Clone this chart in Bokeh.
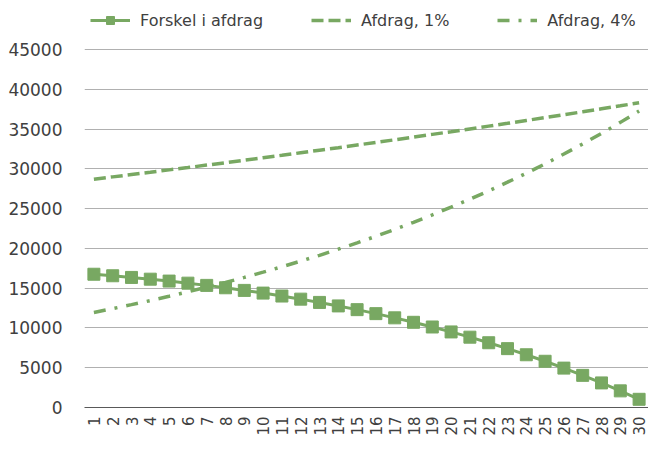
import math
from bokeh.plotting import figure
from bokeh.models import (FactorRange, Range1d, FixedTicker, Legend, LegendItem,
                          BasicTickFormatter, ColumnDataSource)
from bokeh.embed import file_html
from bokeh.resources import INLINE

years = [str(i) for i in range(1, 31)]
forskel = [16750, 16560, 16350, 16130, 15890, 15630, 15350, 15050, 14720, 14380,
           14010, 13620, 13210, 12770, 12300, 11800, 11270, 10710, 10120, 9500,
           8840, 8140, 7400, 6630, 5810, 4950, 4040, 3090, 2090, 1030]
afdrag_1 = [28700, 28990, 29280, 29570, 29870, 30160, 30470, 30770, 31080, 31390,
            31700, 32020, 32340, 32660, 32990, 33320, 33650, 33990, 34330, 34670,
            35020, 35370, 35720, 36080, 36440, 36810, 37170, 37550, 37920, 38300]
afdrag_4 = [11950, 12430, 12930, 13440, 13980, 14540, 15120, 15730, 16350, 17010,
            17690, 18400, 19130, 19900, 20690, 21520, 22380, 23280, 24210, 25180,
            26180, 27230, 28320, 29450, 30630, 31860, 33130, 34460, 35840, 37270]
y_ticks = [0, 5000, 10000, 15000, 20000, 25000, 30000, 35000, 40000, 45000]
labels = ["Forskel i afdrag", "Afdrag, 1%", "Afdrag, 4%"]

GREEN = "#78A862"
TEXT = "#404040"
FONT = "DejaVu Sans"

src = ColumnDataSource(dict(x=years, f=forskel, a1=afdrag_1, a4=afdrag_4))

# frame extends to the top of the canvas so the legend (inside the frame) is not clipped;
# only ticks up to 45000 are shown
p = figure(width=648, height=461, x_range=FactorRange(*years),
           y_range=Range1d(0, 51160), output_backend="svg", toolbar_location=None,
           min_border_left=84, min_border_right=0, min_border_top=0,
           min_border_bottom=54)
p.outline_line_color = None
p.background_fill_color = "white"
p.border_fill_color = "white"

r_f_line = p.line("x", "f", source=src, line_color=GREEN, line_width=3)
r_f_sq = p.scatter("x", "f", source=src, marker="square", size=12,
                   fill_color=GREEN, line_color=GREEN)
r_a1 = p.line("x", "a1", source=src, line_color=GREEN, line_width=3.5,
              line_dash="12 5")
r_a4 = p.line("x", "a4", source=src, line_color=GREEN, line_width=3.5,
              line_dash="12 9 3 9")

# axes
p.yaxis.ticker = FixedTicker(ticks=y_ticks)
p.yaxis.formatter = BasicTickFormatter(use_scientific=False)
p.yaxis.axis_line_color = None
p.yaxis.major_tick_line_color = None
p.yaxis.minor_tick_line_color = None
p.yaxis.major_label_standoff = 16
p.yaxis.major_label_text_font = FONT
p.yaxis.major_label_text_font_size = "17px"
p.yaxis.major_label_text_color = TEXT

p.xaxis.axis_line_color = "#595959"
p.xaxis.axis_line_width = 1.2
p.xaxis.major_tick_line_color = None
p.xaxis.minor_tick_line_color = None
p.xaxis.major_label_orientation = math.pi / 2
p.xaxis.major_label_standoff = 3
p.xaxis.major_label_text_font = FONT
p.xaxis.major_label_text_font_size = "15px"
p.xaxis.major_label_text_color = TEXT

p.xgrid.grid_line_color = None
p.ygrid.grid_line_color = "#B0B0B0"
p.ygrid.grid_line_width = 1.2

legend = Legend(items=[LegendItem(label=labels[0], renderers=[r_f_line, r_f_sq]),
                       LegendItem(label=labels[1], renderers=[r_a1]),
                       LegendItem(label=labels[2], renderers=[r_a4])],
                orientation="horizontal", location=(6, 377))
legend.glyph_width = 40
legend.glyph_height = 20
legend.label_height = 20
legend.label_standoff = 10
legend.spacing = 48
legend.padding = 0
legend.margin = 0
legend.border_line_color = None
legend.background_fill_alpha = 0
legend.label_text_font = FONT
legend.label_text_font_size = "16px"
legend.label_text_color = TEXT
p.add_layout(legend, "center")

open("out.html", "w").write(file_html(p, INLINE))
